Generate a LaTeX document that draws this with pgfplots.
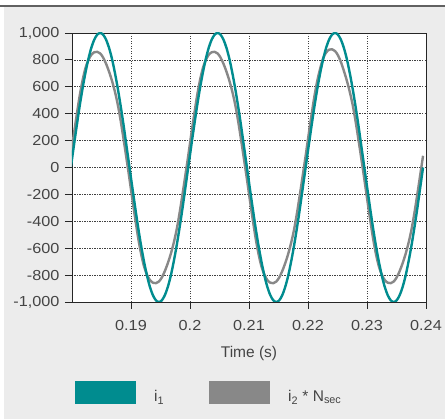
\documentclass[border=0pt]{standalone}
\usepackage{fontspec}
\usepackage{pgfplots}
\usepackage{pgfplotstable}
\pgfplotsset{compat=1.18}
\setmainfont{Liberation Sans}
\newfontfamily\tickfamily{Liberation Sans}[FakeStretch=1.12]
\newcommand\tickfont{\tickfamily\fontsize{14.5}{16}\selectfont}
\newcommand\lblfont{\fontsize{15.5}{17}\selectfont}

\definecolor{tealc}{HTML}{008C8F}
\definecolor{grayc}{HTML}{888888}
\definecolor{panel}{HTML}{ECECEC}
\definecolor{txt}{HTML}{444444}

% t [s], i1, i2*Nsec
\pgfplotstableread{
t i1 i2
0.17980 0 87
0.18030 156 242
0.18080 309 391
0.18129 454 530
0.18179 588 648
0.18229 707 740
0.18279 809 800
0.18328 891 838
0.18378 951 857
0.18428 988 860
0.18478 1000 848
0.18527 988 818
0.18577 951 772
0.18627 891 714
0.18677 809 646
0.18726 707 566
0.18776 588 468
0.18826 454 345
0.18876 309 205
0.18925 156 62
0.18975 0 -87
0.19025 -156 -242
0.19075 -309 -391
0.19124 -454 -530
0.19174 -588 -648
0.19224 -707 -740
0.19274 -809 -800
0.19323 -891 -838
0.19373 -951 -857
0.19423 -988 -860
0.19473 -1000 -848
0.19522 -988 -818
0.19572 -951 -772
0.19622 -891 -714
0.19672 -809 -646
0.19721 -707 -566
0.19771 -588 -468
0.19821 -454 -345
0.19871 -309 -205
0.19920 -156 -62
0.19970 0 87
0.20020 156 242
0.20070 309 391
0.20119 454 530
0.20169 588 648
0.20219 707 740
0.20269 809 800
0.20318 891 838
0.20368 951 857
0.20418 988 860
0.20468 1000 848
0.20517 988 818
0.20567 951 772
0.20617 891 714
0.20667 809 646
0.20716 707 566
0.20766 588 468
0.20816 454 345
0.20866 309 205
0.20915 156 62
0.20965 0 -87
0.21015 -156 -242
0.21065 -309 -391
0.21114 -454 -530
0.21164 -588 -648
0.21214 -707 -740
0.21264 -809 -800
0.21313 -891 -838
0.21363 -951 -857
0.21413 -988 -860
0.21463 -1000 -848
0.21512 -988 -818
0.21562 -951 -772
0.21612 -891 -714
0.21662 -809 -646
0.21711 -707 -566
0.21761 -588 -468
0.21811 -454 -345
0.21861 -309 -205
0.21910 -156 -62
0.21960 0 87
0.22010 156 242
0.22060 309 391
0.22109 454 530
0.22159 588 648
0.22209 707 740
0.22259 809 815
0.22308 891 855
0.22358 951 876
0.22408 988 879
0.22458 1000 866
0.22507 988 835
0.22557 951 785
0.22607 891 720
0.22657 809 648
0.22706 707 566
0.22756 588 468
0.22806 454 345
0.22856 309 205
0.22905 156 62
0.22955 0 -87
0.23005 -156 -242
0.23055 -309 -391
0.23104 -454 -530
0.23154 -588 -648
0.23204 -707 -740
0.23254 -809 -800
0.23303 -891 -838
0.23353 -951 -857
0.23403 -988 -860
0.23453 -1000 -848
0.23502 -988 -818
0.23552 -951 -772
0.23602 -891 -714
0.23652 -809 -646
0.23701 -707 -566
0.23751 -588 -468
0.23801 -454 -345
0.23851 -309 -205
0.23900 -156 -62
0.23950 0 87
}\datatable

\begin{document}
\begin{tikzpicture}
\useasboundingbox (0,0) rectangle (445pt,419pt);
\fill[white] (0,0) rectangle (445pt,419pt);
\fill[panel] (4pt,0) rectangle (445pt,412pt);
\fill[black!62] (0,412pt) rectangle (445pt,414pt);
\begin{axis}[
    at={(72pt,117pt)}, anchor=south west,
    scale only axis, width=354pt, height=269pt,
    xmin=0.18, xmax=0.24, ymin=-1000, ymax=1000,
    axis background/.style={fill=white},
    axis line style={black!85, line width=0.9pt},
    xtick={0.19,0.2,0.21,0.22,0.23,0.24},
    xticklabels={0.19,0.2,0.21,0.22,0.23,0.24},
    ytick={-1000,-800,-600,-400,-200,0,200,400,600,800,1000},
    yticklabels={{-1,000},{-800},{-600},{-400},{-200},{0},{200},{400},{600},{800},{1,000}},
    xtick pos=bottom, ytick pos=left,
    tick align=outside, major tick length=7pt,
    tick style={black!85, line width=0.8pt},
    ticklabel style={font=\tickfont, text=txt},
    xticklabel style={yshift=-8pt},
    yticklabel style={xshift=-2pt},
    grid=major,
    major grid style={black!75, line width=0.6pt, dash pattern=on 1.2pt off 1.3pt},
    xlabel={Time (s)},
    xlabel style={font=\lblfont, text=txt, at={(axis description cs:0.5,-0.207)}, anchor=base},
    legend columns=2,
    legend image code/.code={\fill[#1] (0pt,-7pt) rectangle (61pt,15.7pt);},
    legend style={at={(axis description cs:0.0085,-0.2937)}, anchor=north west,
        draw=none, fill=none, inner sep=0pt, font=\lblfont, text=txt,
        nodes={inner sep=0pt},
        /tikz/every odd column/.append style={column sep=18pt},
        /tikz/every even column/.append style={column sep=45pt}},
    legend cell align=left,
]
\addplot[grayc, line width=2.4pt, smooth, forget plot] table[x=t, y=i2] {\datatable};
\addplot[tealc, line width=2.4pt, smooth, forget plot] table[x=t, y=i1] {\datatable};
\addlegendimage{draw=none, fill=tealc}
\addlegendentry{i\textsubscript{1}}
\addlegendimage{draw=none, fill=grayc}
\addlegendentry{i\textsubscript{2} * N\textsubscript{sec}}
\end{axis}
\end{tikzpicture}
\end{document}
